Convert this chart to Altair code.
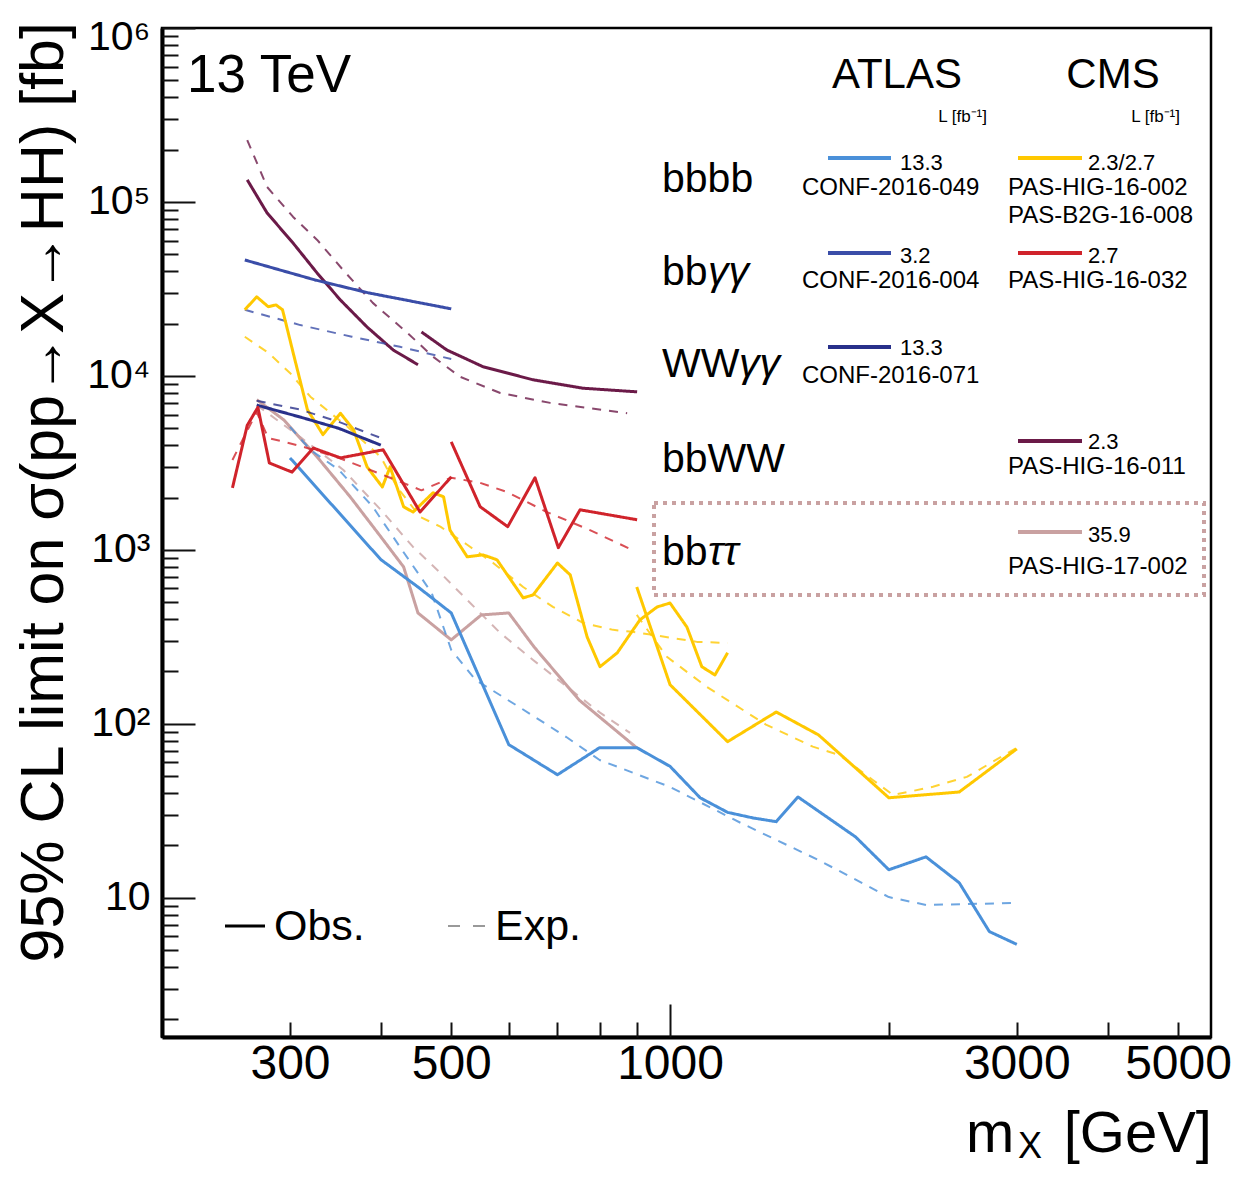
import altair as alt
import pandas as pd

# ---------------- data ----------------
# ATLAS bbbb (CONF-2016-049)
atlas_4b_obs_m = [300, 400, 450, 500, 600, 700, 800, 900, 1000, 1100, 1200, 1300, 1400, 1500, 1800, 2000, 2250, 2500, 2750, 3000]
atlas_4b_obs_v = [3380, 880, 612, 434, 76, 51, 73, 73, 57, 37.6, 31, 28.8, 27.4, 38, 22.4, 14.5, 17.2, 12.2, 6.4, 5.4]
atlas_4b_exp_m = [300, 320, 350, 390, 425, 470, 500, 540, 620, 720, 800, 1000, 1250, 1600, 2000, 2250, 3000]
atlas_4b_exp_v = [5100, 3760, 2890, 1770, 1040, 566, 266, 179, 125, 84, 62, 43.4, 27, 16.5, 10.1, 9.1, 9.35]

# ATLAS bbyy (CONF-2016-004)
atlas_bbgg_obs_m = [260, 325, 385, 500]
atlas_bbgg_obs_v = [46400, 35600, 30000, 24300]
atlas_bbgg_exp_m = [260, 310, 365, 425, 500]
atlas_bbgg_exp_v = [24000, 19600, 16800, 14700, 12500]

# ATLAS WWyy (CONF-2016-071)
atlas_wwgg_obs_m = [270, 310, 350, 400]
atlas_wwgg_obs_v = [6800, 5800, 5000, 4000]
atlas_wwgg_exp_m = [270, 310, 350, 400]
atlas_wwgg_exp_v = [7200, 6400, 5450, 4400]

# CMS bbbb (PAS-HIG-16-002 low mass, PAS-B2G-16-008 high mass)
cms_4b_obs_a_m = [260, 270, 280, 287, 293, 303, 317, 333, 352, 367, 383, 402, 412, 430, 443, 472, 488, 498, 526, 553, 578,
                  628, 648, 700, 729, 769, 801, 846, 909, 960, 1000, 1055, 1106, 1153, 1200]
cms_4b_obs_a_v = [24000, 28500, 25000, 25600, 24000, 13600, 6400, 4600, 6100, 4900, 3000, 2300, 3000, 1770, 1650, 2130, 2020, 1300, 912, 936, 877,
                  530, 551, 841, 718, 316, 213, 256, 396, 470, 495, 360, 213, 191, 256]
cms_4b_obs_b_m = [900, 1000, 1200, 1400, 1600, 1800, 2000, 2500, 3000]
cms_4b_obs_b_v = [612, 168, 79, 117, 86.5, 55.8, 37.6, 40.6, 71.8]
cms_4b_exp_a_m = [260, 280, 300, 320, 360, 400, 421, 453, 483, 526, 571, 628, 690, 760, 835, 889, 1089, 1200]
cms_4b_exp_a_v = [16800, 13600, 10400, 7600, 5100, 3420, 2300, 1550, 1360, 1070, 841, 612, 470, 380, 347, 338, 296, 292]
cms_4b_exp_b_m = [900, 990, 1124, 1355, 1572, 1713, 1901, 2027, 2300, 2561, 3000]
cms_4b_exp_b_v = [423, 243, 163, 99, 74, 66, 47.6, 39, 43.5, 49.6, 72.8]

# CMS bbyy (PAS-HIG-16-032)
cms_bbgg_obs_a_m = [250, 262, 271, 281, 302, 323, 352, 403, 453, 500]
cms_bbgg_obs_a_v = [2270, 5200, 6600, 3160, 2800, 3850, 3380, 3760, 1650, 2630]
cms_bbgg_obs_b_m = [500, 548, 598, 652, 702, 752, 901]
cms_bbgg_obs_b_v = [4180, 1770, 1360, 2600, 1030, 1700, 1490]
cms_bbgg_exp_m = [250, 270, 280, 310, 350, 400, 455, 500, 548, 597, 677, 776, 887]
cms_bbgg_exp_v = [3290, 6200, 4400, 3960, 3380, 2730, 2200, 2600, 2430, 2150, 1650, 1300, 1000]

# CMS bbWW (PAS-HIG-16-011)
cms_bbww_obs_a_m = [262, 279, 303, 327, 352, 383, 416, 450]
cms_bbww_obs_a_v = [134000, 86500, 58000, 39000, 27300, 19100, 14100, 11600]
cms_bbww_obs_b_m = [455, 493, 553, 648, 759, 901]
cms_bbww_obs_b_v = [17900, 14100, 11300, 9500, 8500, 8100]
cms_bbww_exp_m = [262, 279, 303, 327, 355, 390, 435, 472, 514, 584, 684, 873]
cms_bbww_exp_v = [227000, 122000, 82000, 60500, 40600, 26300, 17700, 12900, 9900, 7980, 7000, 6100]

# CMS bbtautau (PAS-HIG-17-002)
cms_bbtt_obs_m = [270, 294, 327, 363, 400, 430, 450, 500, 550, 600, 650, 750, 900]
cms_bbtt_obs_v = [7300, 5600, 3420, 2020, 1190, 798, 434, 304, 423, 434, 277, 137, 72.8]
cms_bbtt_exp_m = [270, 310, 355, 400, 443, 483, 531, 584, 648, 722, 801, 881]
cms_bbtt_exp_v = [6800, 4450, 2890, 1700, 1040, 738, 495, 333, 233, 163, 116, 88.7]

series_names = ["atlas_4b", "atlas_bbgg", "atlas_wwgg", "cms_4b", "cms_bbgg", "cms_bbww", "cms_bbtt"]
series_colors = ["#4a90d9", "#3a4da8", "#28308a", "#ffc800", "#d0232b", "#6b1a48", "#c9a1a1"]

x_label_values = [300, 500, 1000, 3000, 5000]
x_major_ticks = [1000]
x_minor_ticks = [300, 400, 500, 600, 700, 800, 900, 2000, 3000, 4000, 5000]
y_label_values = [10, 100, 1000, 10000, 100000, 1000000]
y_minor_ticks = [m * d for d in [1, 10, 100, 1000, 10000, 100000] for m in range(2, 10)]

# ---------------- table ----------------
rows = []


def add(series, kind, seg, masses, vals):
    for m, v in zip(masses, vals):
        rows.append(dict(mass=m, limit=v, series=series, kind=kind, line_id=f"{series}|{kind}|{seg}"))


add("cms_bbww", "exp", 0, cms_bbww_exp_m, cms_bbww_exp_v)
add("cms_bbww", "obs", 0, cms_bbww_obs_a_m, cms_bbww_obs_a_v)
add("cms_bbww", "obs", 1, cms_bbww_obs_b_m, cms_bbww_obs_b_v)
add("atlas_bbgg", "exp", 0, atlas_bbgg_exp_m, atlas_bbgg_exp_v)
add("atlas_bbgg", "obs", 0, atlas_bbgg_obs_m, atlas_bbgg_obs_v)
add("cms_bbtt", "exp", 0, cms_bbtt_exp_m, cms_bbtt_exp_v)
add("cms_bbtt", "obs", 0, cms_bbtt_obs_m, cms_bbtt_obs_v)
add("atlas_4b", "exp", 0, atlas_4b_exp_m, atlas_4b_exp_v)
add("atlas_4b", "obs", 0, atlas_4b_obs_m, atlas_4b_obs_v)
add("cms_4b", "exp", 0, cms_4b_exp_a_m, cms_4b_exp_a_v)
add("cms_4b", "exp", 1, cms_4b_exp_b_m, cms_4b_exp_b_v)
add("cms_4b", "obs", 0, cms_4b_obs_a_m, cms_4b_obs_a_v)
add("cms_4b", "obs", 1, cms_4b_obs_b_m, cms_4b_obs_b_v)
add("atlas_wwgg", "exp", 0, atlas_wwgg_exp_m, atlas_wwgg_exp_v)
add("atlas_wwgg", "obs", 0, atlas_wwgg_obs_m, atlas_wwgg_obs_v)
add("cms_bbgg", "exp", 0, cms_bbgg_exp_m, cms_bbgg_exp_v)
add("cms_bbgg", "obs", 0, cms_bbgg_obs_a_m, cms_bbgg_obs_a_v)
add("cms_bbgg", "obs", 1, cms_bbgg_obs_b_m, cms_bbgg_obs_b_v)

df = pd.DataFrame(rows)

# ---------------- chart ----------------
W, H = 1049, 1009
FONT = "Liberation Sans"

xscale = alt.Scale(type="log", domain=[200, 5550], nice=False)
yscale = alt.Scale(type="log", domain=[1.585, 1e6], nice=False)

y_label_expr = "'10' + ['', '', '\u00b2', '\u00b3', '\u2074', '\u2075', '\u2076'][round(log(datum.value) / LN10)]"


def build(use_cond):
    y_axis_kw = dict(values=y_label_values, labelExpr=y_label_expr, ticks=False, grid=False,
                     domain=True, domainColor="black", domainWidth=4,
                     labelFont=FONT, labelFontSize=41, labelColor="black",
                     labelPadding=12, labelBaseline="middle", labelAlign="right",
                     labelOverlap=False, labelFlush=False, labelBound=False, title=None)
    if use_cond:
        y_axis_kw["labelOffset"] = {"condition": {"test": "datum.value > 500000", "value": 9}, "value": 0}

    lines = alt.Chart(df).mark_line(clip=True, strokeJoin="round").encode(
        x=alt.X("mass:Q", scale=xscale,
                axis=alt.Axis(values=x_label_values, format="d", ticks=False, grid=False,
                              domain=True, domainColor="black", domainWidth=4,
                              labelFont=FONT, labelFontSize=48, labelColor="black",
                              labelPadding=27, labelBaseline="middle", labelOverlap=False,
                              labelFlush=False, labelBound=False, title=None)),
        y=alt.Y("limit:Q", scale=yscale, axis=alt.Axis(**y_axis_kw)),
        color=alt.Color("series:N", scale=alt.Scale(domain=series_names, range=series_colors), legend=None),
        strokeDash=alt.StrokeDash("kind:N", scale=alt.Scale(domain=["obs", "exp"], range=[[1, 0], [9, 8]]), legend=None),
        strokeWidth=alt.StrokeWidth("kind:N", scale=alt.Scale(domain=["obs", "exp"], range=[3, 2]), legend=None),
        opacity=alt.Opacity("kind:N", scale=alt.Scale(domain=["obs", "exp"], range=[1.0, 0.8]), legend=None),
        detail="line_id:N",
    )

    def x_ticks(values, size):
        return alt.Chart(df).mark_point(opacity=0).encode(
            x=alt.X("mass:Q", scale=xscale,
                    axis=alt.Axis(orient="top", offset=-H, values=values, labels=False, domain=False,
                                  grid=False, ticks=True, tickSize=size, tickWidth=2,
                                  tickColor="#111111", title=None)))

    def y_ticks(values, size):
        return alt.Chart(df).mark_point(opacity=0).encode(
            y=alt.Y("limit:Q", scale=yscale,
                    axis=alt.Axis(orient="right", offset=-W, values=values, labels=False, domain=False,
                                  grid=False, ticks=True, tickSize=size, tickWidth=2,
                                  tickColor="#111111", title=None)))

    one = alt.Data(values=[{"a": 0}])

    def txt(text, x, y, size, align="left", style="normal", angle=0, baseline="alphabetic"):
        kw = dict(text=text, align=align, baseline=baseline, fontSize=size, font=FONT,
                  fontStyle=style, color="black")
        if angle:
            kw["angle"] = angle
        return alt.Chart(one).mark_text(**kw).encode(x=alt.value(x), y=alt.value(y))

    def seg(x1, x2, y, color, width=4, dash=None):
        kw = dict(color=color, strokeWidth=width)
        if dash:
            kw["strokeDash"] = dash
        return alt.Chart(one).mark_rule(**kw).encode(x=alt.value(x1), x2=alt.value(x2), y=alt.value(y))

    c = dict(zip(series_names, series_colors))
    ann = [
        # titles
        txt("95% CL limit on \u03c3(pp\u2192X\u2192HH) [fb]", -99, -6, 61, align="right", angle=270),
        txt("m", 804, 1124, 58),
        txt("X", 856, 1130, 36),
        txt("[GeV]", 1050, 1124, 58, align="right"),
        txt("13 TeV", 25, 64, 53),
        # legend header
        txt("ATLAS", 735, 60, 42, align="center"),
        txt("CMS", 951, 60, 42, align="center"),
        txt("L [fb\u207b\u00b9]", 825, 94, 17, align="right"),
        txt("L [fb\u207b\u00b9]", 1018, 94, 17, align="right"),
        # rows
        txt("bbbb", 500, 164, 41),
        txt("bb", 500, 257, 41), txt("\u03b3\u03b3", 546, 257, 41, style="italic"),
        txt("WW", 500, 349, 41), txt("\u03b3\u03b3", 577, 349, 41, style="italic"),
        txt("bbWW", 500, 444, 41),
        txt("bb", 500, 537, 41), txt("\u03c4\u03c4", 546, 537, 41, style="italic"),
        # sample lines
        seg(666, 729, 130, c["atlas_4b"]), seg(856, 920, 130, c["cms_4b"]),
        seg(666, 729, 225, c["atlas_bbgg"]), seg(856, 920, 225, c["cms_bbgg"]),
        seg(666, 729, 319, c["atlas_wwgg"]),
        seg(856, 920, 413, c["cms_bbww"]),
        seg(856, 920, 504, c["cms_bbtt"]),
        # luminosities
        txt("13.3", 738, 142, 22), txt("2.3/2.7", 926, 142, 22),
        txt("3.2", 738, 235, 22), txt("2.7", 926, 235, 22),
        txt("13.3", 738, 327, 22),
        txt("2.3", 926, 421, 22),
        txt("35.9", 926, 514, 22),
        # references
        txt("CONF-2016-049", 640, 167, 24), txt("PAS-HIG-16-002", 846, 167, 24),
        txt("PAS-B2G-16-008", 846, 195, 24),
        txt("CONF-2016-004", 640, 260, 24), txt("PAS-HIG-16-032", 846, 260, 24),
        txt("CONF-2016-071", 640, 355, 24),
        txt("PAS-HIG-16-011", 846, 446, 24),
        txt("PAS-HIG-17-002", 846, 546, 24),
        # obs / exp key
        seg(63, 103, 898, "black", width=3),
        txt("Obs.", 112, 912, 43),
        seg(286, 323, 898, "#999999", width=2, dash=[12, 13]),
        txt("Exp.", 333, 912, 43),
    ]

    box = alt.Chart(one).mark_rect(fillOpacity=0, stroke="#c9a1a1", strokeWidth=4, strokeDash=[4, 5]).encode(
        x=alt.value(492), x2=alt.value(1042), y=alt.value(475), y2=alt.value(567))

    return alt.layer(
        lines,
        x_ticks(x_major_ticks, 33), x_ticks(x_minor_ticks, 15),
        y_ticks(y_label_values, 33), y_ticks(y_minor_ticks, 16),
        box, *ann,
    ).resolve_axis(x="independent", y="independent").properties(
        width=W, height=H,
        padding={"left": 154, "top": 20, "right": 30, "bottom": 130},
        autosize=alt.AutoSizeParams(type="none"),
        background="white",
    ).configure_view(stroke="black", strokeWidth=2.5)


try:
    chart = build(True)
    chart.to_dict()
except Exception:
    chart = build(False)

chart.save("out.html", embed_options={"renderer": "svg", "actions": False})
